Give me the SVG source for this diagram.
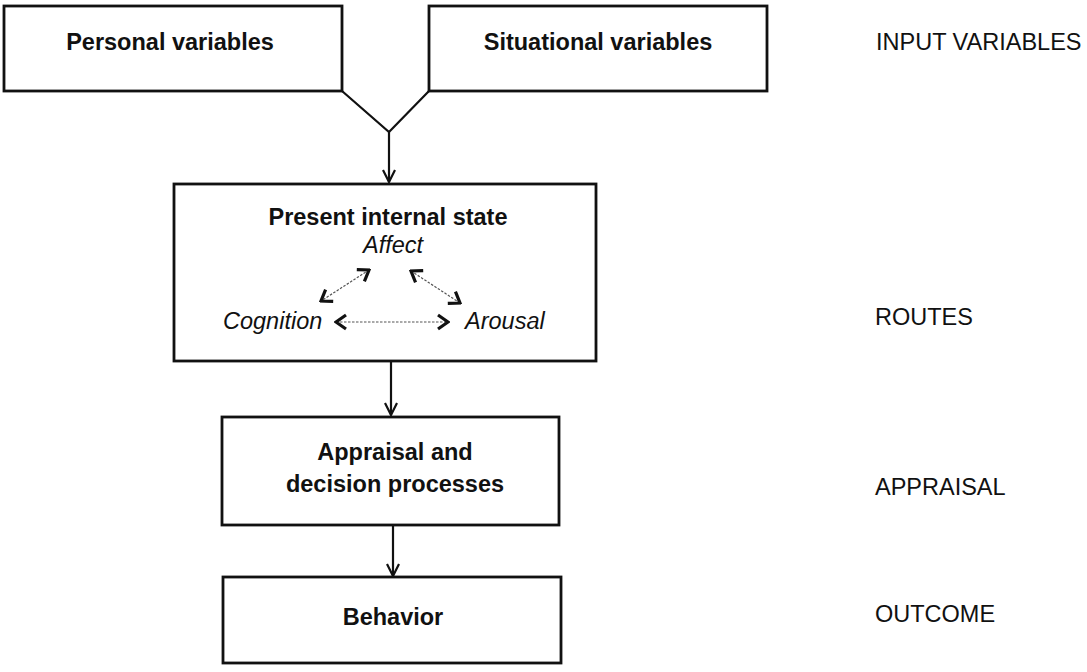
<svg xmlns="http://www.w3.org/2000/svg" width="1087" height="672" viewBox="0 0 1087 672">
<defs>
<style>
.box{fill:#fff;stroke:#111;stroke-width:2.8}
.b{font-family:"Liberation Sans",Arial,sans-serif;font-weight:bold;font-size:23.5px;fill:#111;text-anchor:middle}
.i{font-family:"Liberation Sans",Arial,sans-serif;font-style:italic;font-size:23.5px;fill:#111}
.r{font-family:"Liberation Sans",Arial,sans-serif;font-size:23.5px;fill:#111}
.line{fill:none;stroke:#111;stroke-width:2.2}
.dash{fill:none;stroke:#555;stroke-width:1.2;stroke-dasharray:2.5 1.5}
</style>
<marker id="arr" viewBox="0 0 14 14" refX="13" refY="7" markerWidth="14" markerHeight="14" markerUnits="userSpaceOnUse" orient="auto">
<path d="M1,1 L13,7 L1,13" fill="none" stroke="#111" stroke-width="2.2"/>
</marker>
<marker id="chv" viewBox="0 0 14 18" refX="12" refY="9" markerWidth="14" markerHeight="18" markerUnits="userSpaceOnUse" orient="auto-start-reverse">
<path d="M2,2 L12,9 L2,16" fill="none" stroke="#111" stroke-width="3.2"/>
</marker>
</defs>

<g id="connectors">
<polyline class="line" points="342,91 389,132 429,91"/>
<line class="line" x1="389" y1="132" x2="389" y2="182" marker-end="url(#arr)"/>
<line class="line" x1="391" y1="361" x2="391" y2="415" marker-end="url(#arr)"/>
<line class="line" x1="393" y1="525" x2="393" y2="576" marker-end="url(#arr)"/>
</g>

<g id="personal">
<rect class="box" x="4" y="6" width="338" height="85"/>
<text class="b" x="170" y="50">Personal variables</text>
</g>
<g id="situational">
<rect class="box" x="429" y="6" width="338" height="85"/>
<text class="b" x="598" y="50">Situational variables</text>
</g>

<g id="present-state">
<rect class="box" x="174" y="184" width="422" height="177"/>
<text class="b" x="388" y="225">Present internal state</text>
<text class="i" x="393" y="253" text-anchor="middle">Affect</text>
<text class="i" x="223" y="329">Cognition</text>
<text class="i" x="465" y="329">Arousal</text>
<g id="internal-links">
<line class="dash" x1="369" y1="270" x2="321" y2="301" marker-start="url(#chv)" marker-end="url(#chv)"/>
<line class="dash" x1="411" y1="271" x2="460" y2="303" marker-start="url(#chv)" marker-end="url(#chv)"/>
<line class="dash" x1="336" y1="322" x2="448" y2="322" marker-start="url(#chv)" marker-end="url(#chv)"/>
</g>
</g>

<g id="appraisal">
<rect class="box" x="222" y="417" width="337" height="108"/>
<text class="b" x="395" y="460">Appraisal and</text>
<text class="b" x="395" y="492">decision processes</text>
</g>

<g id="behavior">
<rect class="box" x="223" y="577" width="338" height="86"/>
<text class="b" x="393" y="625">Behavior</text>
</g>

<g id="levels">
<text class="r" x="876" y="50">INPUT VARIABLES</text>
<text class="r" x="875" y="325">ROUTES</text>
<text class="r" x="875" y="495">APPRAISAL</text>
<text class="r" x="875" y="622">OUTCOME</text>
</g>
</svg>
